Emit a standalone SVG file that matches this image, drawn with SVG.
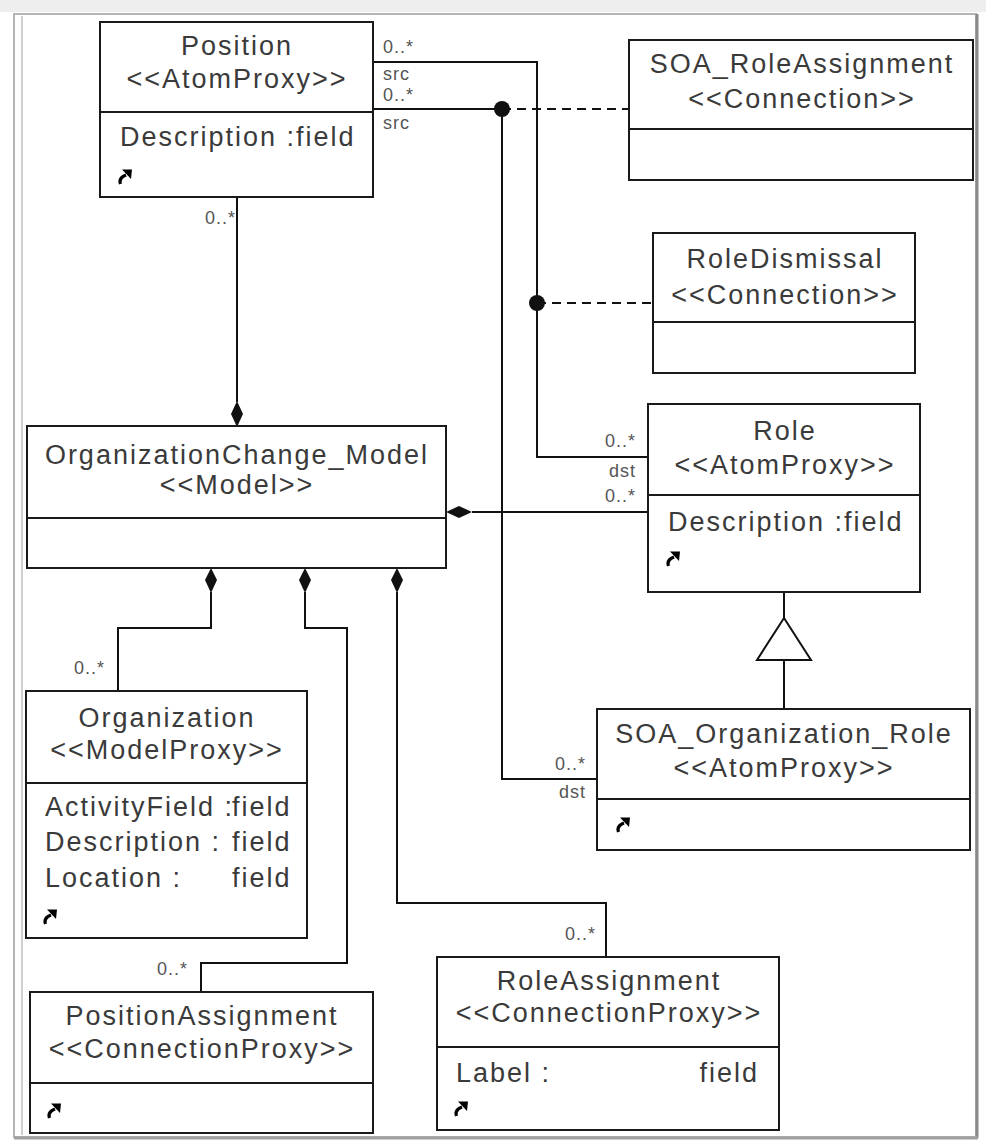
<svg xmlns="http://www.w3.org/2000/svg" width="986" height="1145" viewBox="0 0 986 1145">
<style>
.box{fill:#fff;stroke:#1a1a1a;stroke-width:2}
.div{stroke:#1a1a1a;stroke-width:2}
.t{font-family:"Liberation Sans",Arial,sans-serif;font-size:27px;fill:#3a3a3a;letter-spacing:2px}
.c{text-anchor:middle}
.m{font-family:"Liberation Sans",Arial,sans-serif;font-size:18px;fill:#555;letter-spacing:1px}
.r{text-anchor:end}
.ln{fill:none;stroke:#111;stroke-width:2}
.dash{fill:none;stroke:#111;stroke-width:2;stroke-dasharray:9 6}
.fill{fill:#111;stroke:none}
</style>
<defs>
<symbol id="icon" viewBox="0 0 14 16" width="14" height="16">
<path d="M2.5,15 C1,11 3,8 8,6" fill="none" stroke="#000" stroke-width="3.2"/>
<path d="M4,0.5 L14,0.5 L13,10 Z" fill="#000"/>
</symbol>
</defs>
<rect x="0" y="0" width="986" height="1145" fill="#fff"/>
<g id="frame">
<rect x="0" y="0" width="986" height="12" fill="#eeeeee"/>
<rect x="14" y="14" width="962" height="1123" fill="none" stroke="#b5b5b5" stroke-width="2"/>
<line x1="22" y1="16" x2="22" y2="1135" stroke="#d0d0d0" stroke-width="2"/>
<line x1="977" y1="14" x2="977" y2="1138" stroke="#8a8a8a" stroke-width="3"/>
<line x1="14" y1="1138" x2="978" y2="1138" stroke="#a0a0a0" stroke-width="3"/>
</g>
<g id="connectors">
<polyline class="ln" points="373,62 537,62 537,457 648,457"/>
<polyline class="ln" points="373,109 502,109 502,779 597,779"/>
<line class="dash" x1="502" y1="109" x2="629" y2="109"/>
<line class="dash" x1="537" y1="303" x2="653" y2="303"/>
<circle class="fill" cx="502" cy="109" r="8"/>
<circle class="fill" cx="537" cy="303" r="8"/>
<line class="ln" x1="237" y1="197" x2="237" y2="402"/>
<path class="fill" d="M237,401 L243,414 L237,427 L231,414 Z"/>
<line class="ln" x1="472" y1="512" x2="648" y2="512"/>
<path class="fill" d="M446,512 L459,506 L472,512 L459,518 Z"/>
<polyline class="ln" points="211,592 211,628 118,628 118,691"/>
<path class="fill" d="M211,568 L217,580 L211,593 L205,580 Z"/>
<polyline class="ln" points="305,592 305,628 347,628 347,963 201,963 201,992"/>
<path class="fill" d="M305,568 L311,580 L305,593 L299,580 Z"/>
<polyline class="ln" points="397,592 397,903 606,903 606,957"/>
<path class="fill" d="M397,568 L403,580 L397,593 L391,580 Z"/>
<line class="ln" x1="784" y1="592" x2="784" y2="618"/>
<path d="M784,618 L811,660 L757,660 Z" fill="#fff" stroke="#111" stroke-width="2"/>
<line class="ln" x1="784" y1="660" x2="784" y2="709"/>
<text class="m" x="383" y="53">0..*</text>
<text class="m" x="383" y="80">src</text>
<text class="m" x="383" y="101">0..*</text>
<text class="m" x="383" y="129">src</text>
<text class="m r" x="236" y="224">0..*</text>
<text class="m r" x="636" y="447">0..*</text>
<text class="m r" x="636" y="477">dst</text>
<text class="m r" x="636" y="502">0..*</text>
<text class="m r" x="586" y="770">0..*</text>
<text class="m r" x="586" y="798">dst</text>
<text class="m r" x="105" y="674">0..*</text>
<text class="m r" x="188" y="975">0..*</text>
<text class="m r" x="596" y="940">0..*</text>
</g>
<g id="Position">
<rect class="box" x="100" y="22" width="273" height="175"/>
<line class="div" x1="100" y1="112" x2="373" y2="112"/>
<text class="t c" x="237" y="55">Position</text>
<text class="t c" x="237" y="88">&lt;&lt;AtomProxy&gt;&gt;</text>
<text class="t" x="120" y="146">Description :field</text>
<use href="#icon" x="118" y="169"/>
</g>
<g id="SOA_RoleAssignment">
<rect class="box" x="629" y="40" width="344" height="140"/>
<line class="div" x1="629" y1="129" x2="973" y2="129"/>
<text class="t c" x="802" y="73">SOA_RoleAssignment</text>
<text class="t c" x="802" y="108">&lt;&lt;Connection&gt;&gt;</text>
</g>
<g id="RoleDismissal">
<rect class="box" x="653" y="233" width="262" height="140"/>
<line class="div" x1="653" y1="322" x2="915" y2="322"/>
<text class="t c" x="785" y="268">RoleDismissal</text>
<text class="t c" x="785" y="304">&lt;&lt;Connection&gt;&gt;</text>
</g>
<g id="Role">
<rect class="box" x="648" y="404" width="272" height="188"/>
<line class="div" x1="648" y1="495" x2="920" y2="495"/>
<text class="t c" x="785" y="440">Role</text>
<text class="t c" x="785" y="474">&lt;&lt;AtomProxy&gt;&gt;</text>
<text class="t" x="668" y="531">Description :field</text>
<use href="#icon" x="666" y="551"/>
</g>
<g id="OrganizationChange_Model">
<rect class="box" x="27" y="426" width="419" height="142"/>
<line class="div" x1="27" y1="518" x2="446" y2="518"/>
<text class="t c" x="237" y="464">OrganizationChange_Model</text>
<text class="t c" x="237" y="494">&lt;&lt;Model&gt;&gt;</text>
</g>
<g id="SOA_Organization_Role">
<rect class="box" x="597" y="709" width="373" height="141"/>
<line class="div" x1="597" y1="799" x2="970" y2="799"/>
<text class="t c" x="784" y="743">SOA_Organization_Role</text>
<text class="t c" x="784" y="777">&lt;&lt;AtomProxy&gt;&gt;</text>
<use href="#icon" x="616" y="817"/>
</g>
<g id="Organization">
<rect class="box" x="26" y="691" width="281" height="247"/>
<line class="div" x1="26" y1="783" x2="307" y2="783"/>
<text class="t c" x="167" y="727">Organization</text>
<text class="t c" x="167" y="759">&lt;&lt;ModelProxy&gt;&gt;</text>
<text class="t" x="45" y="816">ActivityField :<tspan x="232">field</tspan></text>
<text class="t" x="45" y="851">Description :<tspan x="232">field</tspan></text>
<text class="t" x="45" y="887">Location :<tspan x="232">field</tspan></text>
<use href="#icon" x="43" y="909"/>
</g>
<g id="PositionAssignment">
<rect class="box" x="30" y="992" width="343" height="141"/>
<line class="div" x1="30" y1="1083" x2="373" y2="1083"/>
<text class="t c" x="202" y="1025">PositionAssignment</text>
<text class="t c" x="202" y="1058">&lt;&lt;ConnectionProxy&gt;&gt;</text>
<use href="#icon" x="47" y="1103"/>
</g>
<g id="RoleAssignment">
<rect class="box" x="437" y="957" width="342" height="173"/>
<line class="div" x1="437" y1="1047" x2="779" y2="1047"/>
<text class="t c" x="609" y="990">RoleAssignment</text>
<text class="t c" x="609" y="1022">&lt;&lt;ConnectionProxy&gt;&gt;</text>
<text class="t" x="456" y="1082">Label :</text>
<text class="t r" x="759" y="1082">field</text>
<use href="#icon" x="454" y="1101"/>
</g>
</svg>
